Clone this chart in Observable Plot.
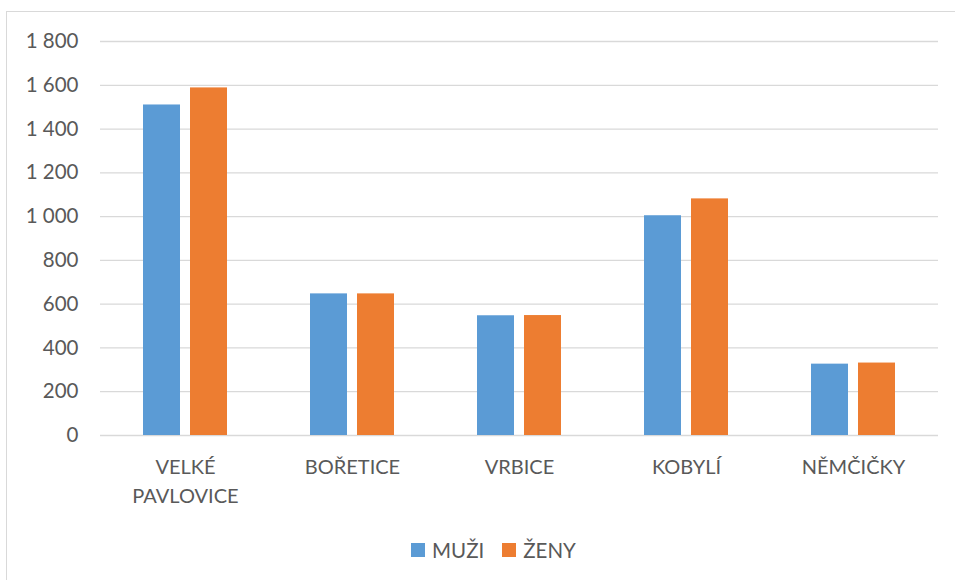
<!DOCTYPE html>
<html>
<head>
<meta charset="utf-8">
<script src="https://cdn.jsdelivr.net/npm/d3@7"></script>
<script src="https://cdn.jsdelivr.net/npm/@observablehq/plot@0.6"></script>
<style>
  html, body { margin: 0; padding: 0; background: #fff; }
  body { width: 955px; height: 580px; overflow: hidden; position: relative; font-family: Lato, "Noto Sans", sans-serif; }
  #frame { position: absolute; left: 6px; top: 11px; width: 1000px; height: 700px; border: 1px solid #d9d9d9; box-sizing: border-box; pointer-events: none; }
  #grid, #chart { position: absolute; left: 0; top: 0; }
  #legend { position: absolute; left: 16px; top: 538px; width: 955px; display: flex; justify-content: center; align-items: center; font-size: 20.5px; color: #595959; }
  #legend .item { display: flex; align-items: center; }
  #legend .sw { width: 14px; height: 14px; margin-right: 7px; }
</style>
</head>
<body>
<div id="frame"></div>
<div id="grid"></div>
<div id="chart"></div>
<div id="legend"></div>
<script>
const categories = ["VELKÉ\nPAVLOVICE", "BOŘETICE", "VRBICE", "KOBYLÍ", "NĚMČIČKY"];
const series = ["MUŽI", "ŽENY"];
const muzi = [1510, 647, 547, 1004, 326];
const zeny = [1588, 647, 548, 1081, 331];
const yTicks = [0, 200, 400, 600, 800, 1000, 1200, 1400, 1600, 1800];
const colors = ["#5B9BD5", "#ED7D31"];

const data = [];
categories.forEach((c, i) => {
  data.push({category: c, series: series[0], value: muzi[i]});
  data.push({category: c, series: series[1], value: zeny[i]});
});

const fmt = v => d3.format(",")(v).replace(/,/g, " ");

const common = {
  width: 955,
  height: 525,
  marginTop: 41,
  marginBottom: 90,
  marginLeft: 100,
  marginRight: 17,
  style: {fontFamily: "Lato, 'Noto Sans', sans-serif", fontSize: "20px", color: "#595959", background: "transparent"}
};

// Background: full-width gridlines and y axis
const grid = Plot.plot({
  ...common,
  y: {domain: [0, 1800], label: null},
  marks: [
    Plot.ruleY(yTicks, {stroke: "#d9d9d9", strokeWidth: 1.3}),
    Plot.axisY(yTicks, {tickSize: 0, tickPadding: 22, tickFormat: fmt, fill: "#595959", fontSize: 20.5, label: null})
  ]
});
document.getElementById("grid").appendChild(grid);

// Foreground: grouped bars and category axis
const chart = Plot.plot({
  ...common,
  fx: {domain: categories, paddingInner: 0.5, paddingOuter: 0.25, label: null},
  x: {domain: series, paddingInner: 0.213, paddingOuter: 0, axis: null},
  y: {domain: [0, 1800], axis: null},
  color: {domain: series, range: colors},
  marks: [
    Plot.barY(data, {fx: "category", x: "series", y: "value", fill: "series"}),
    Plot.axisFx({anchor: "bottom", tickSize: 0, tickPadding: 18, lineHeight: 1.45, fill: "#595959", fontSize: 20, label: null})
  ]
});
document.getElementById("chart").appendChild(chart);

const legend = document.getElementById("legend");
series.forEach((s, i) => {
  const item = document.createElement("div");
  item.className = "item";
  item.style.marginRight = i === 0 ? "18px" : "0";
  const sw = document.createElement("div");
  sw.className = "sw";
  sw.style.background = colors[i];
  const t = document.createElement("span");
  t.textContent = s;
  item.appendChild(sw);
  item.appendChild(t);
  legend.appendChild(item);
});
</script>
</body>
</html>
